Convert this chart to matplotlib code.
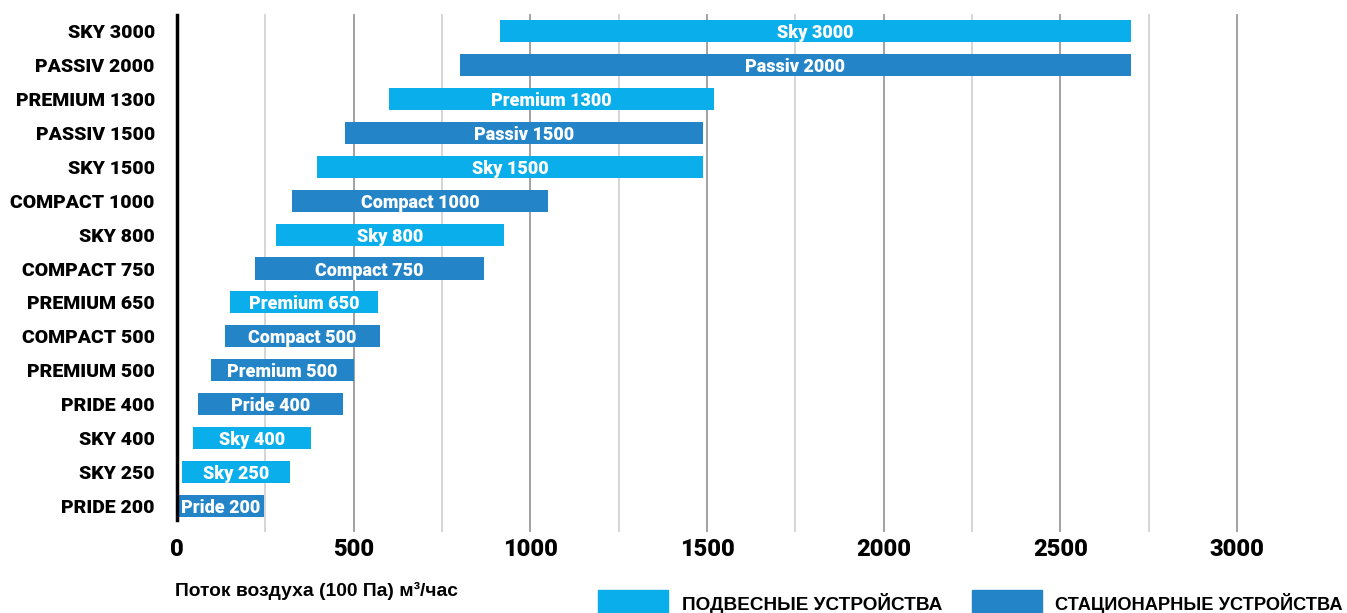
import matplotlib
matplotlib.use('Agg')
import matplotlib.pyplot as plt
from matplotlib.patches import Rectangle

# models, top to bottom
models = ['SKY 3000', 'PASSIV 2000', 'PREMIUM 1300', 'PASSIV 1500', 'SKY 1500',
          'COMPACT 1000', 'SKY 800', 'COMPACT 750', 'PREMIUM 650', 'COMPACT 500',
          'PREMIUM 500', 'PRIDE 400', 'SKY 400', 'SKY 250', 'PRIDE 200']
bar_labels = ['Sky 3000', 'Passiv 2000', 'Premium 1300', 'Passiv 1500', 'Sky 1500',
              'Compact 1000', 'Sky 800', 'Compact 750', 'Premium 650', 'Compact 500',
              'Premium 500', 'Pride 400', 'Sky 400', 'Sky 250', 'Pride 200']
flow_min = [915, 800, 600, 475, 395, 325, 280, 220, 150, 135, 95, 60, 45, 15, 0]
flow_max = [2700, 2700, 1520, 1490, 1490, 1050, 925, 870, 570, 575, 500, 470, 380, 320, 245]
# 'h' = подвесные (hanging), 's' = стационарные (stationary)
kind = ['h', 's', 'h', 's', 'h', 's', 'h', 's', 'h', 's', 's', 's', 'h', 'h', 's']

LIGHT = '#0aaeea'
DARK = '#2384c8'
colors = {'h': LIGHT, 's': DARK}

W, H = 1347, 613
fig = plt.figure(figsize=(W / 100, H / 100), dpi=100)
x0_px, x1_px = 177, 1290
top_px, bot_px = 15, 520
ax = fig.add_axes([x0_px / W, 1 - bot_px / H, (x1_px - x0_px) / W, (bot_px - top_px) / H])

ypos = list(range(len(models)))
widths = [b - a for a, b in zip(flow_min, flow_max)]
ax.barh(ypos, widths, left=flow_min, height=0.65,
        color=[colors[k] for k in kind], zorder=3)

for y, a, b, lab in zip(ypos, flow_min, flow_max, bar_labels):
    ax.text((a + b) / 2, y, lab, ha='center', va='center_baseline', color='white',
            fontsize=13, fontweight='black', family='Roboto', zorder=4)

# grid lines, extending slightly below the axis
for gx in range(250, 3001, 250):
    c = '#9a9a9a' if gx % 500 == 0 else '#d2d2d2'
    ax.plot([gx, gx], [-0.47, 14.72], color=c, lw=1.3, zorder=1, clip_on=False)

ax.set_xlim(0, 3150)
ax.set_ylim(14.41, -0.47)
ax.set_xticks(range(0, 3001, 500))
ax.set_xticklabels([str(v) for v in range(0, 3001, 500)],
                   fontsize=17, fontweight='black', family='Roboto')
ax.set_yticks(ypos)
ax.set_yticklabels(models, fontsize=14, fontweight='black', family='Roboto')
ax.tick_params(axis='both', length=0)
ax.tick_params(axis='x', pad=13)
ax.tick_params(axis='y', pad=16)
for s in ['top', 'right', 'bottom']:
    ax.spines[s].set_visible(False)
ax.spines['left'].set_linewidth(2.5)
ax.spines['left'].set_color('black')
ax.spines['left'].set_zorder(5)

# axis caption
fig.text(175 / W, 1 - 591 / H, 'Поток воздуха (100 Па) м³/час',
         ha='left', va='center', fontsize=13.9, fontweight='bold',
         family='Liberation Sans')

# legend: text sized so it spans the same width as in the reference
leg_items = [(598, LIGHT, 'ПОДВЕСНЫЕ УСТРОЙСТВА', 682, 943),
             (972, DARK, 'СТАЦИОНАРНЫЕ УСТРОЙСТВА', 1055, 1342)]
renderer = fig.canvas.get_renderer()
for px, col, txt, tx, tx_end in leg_items:
    fig.patches.append(Rectangle((px / W, 0), 70 / W, 23 / H,
                                 transform=fig.transFigure, color=col))
    t = fig.text(tx / W, 1 - 603 / H, txt, ha='left', va='center', fontsize=14,
                 fontweight='bold', family='Liberation Sans')
    w = t.get_window_extent(renderer).width
    t.set_fontsize(14 * (tx_end - tx) / w)

fig.savefig('out.png', dpi=100)
